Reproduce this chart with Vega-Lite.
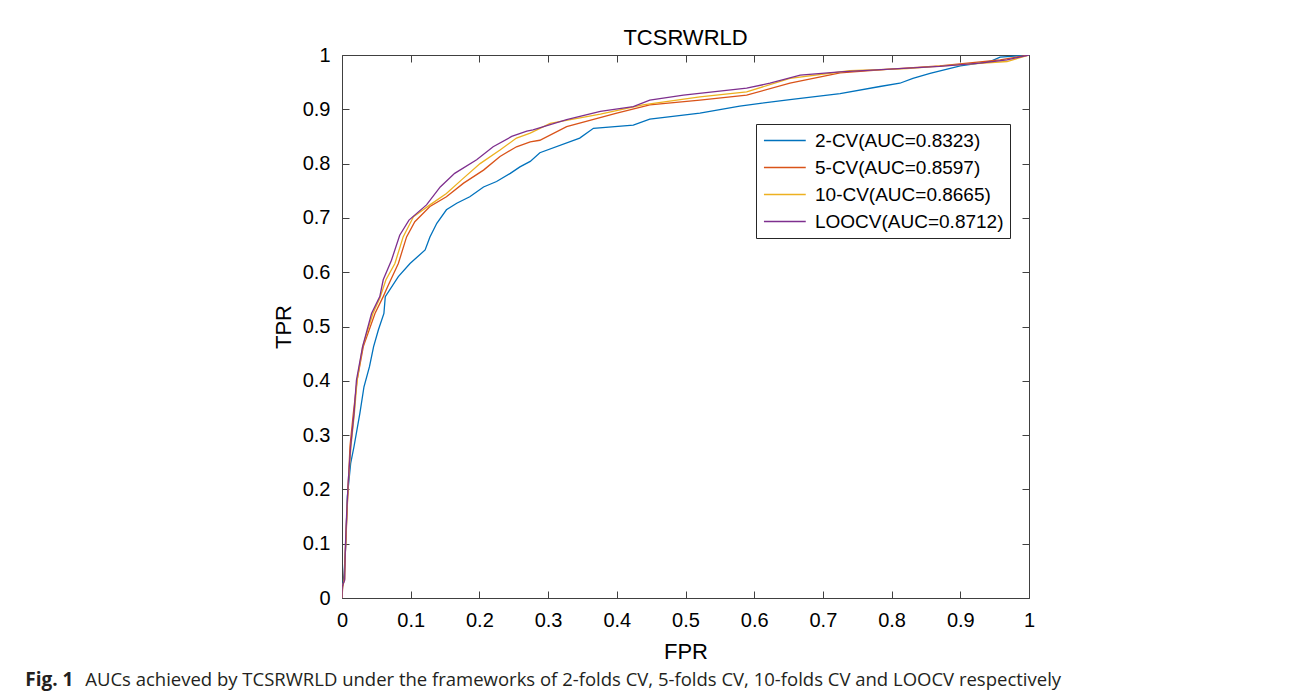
{
  "$schema": "https://vega.github.io/schema/vega-lite/v6.json",
  "background": "white",
  "padding": {"left": 25, "top": 27, "right": 5, "bottom": 5},
  "config": {"font": "Liberation Sans", "view": {"stroke": null}},
  "title": {"text": "AUCs achieved by TCSRWRLD under the frameworks of 2-folds CV, 5-folds CV, 10-folds CV and LOOCV respectively", "orient": "bottom", "anchor": "start", "font": "Open Sans", "fontSize": 18.5, "fontWeight": "normal", "color": "#231f20", "offset": 0, "dx": 60, "dy": -19},
  "vconcat": [
    {
      "title": {"text": "Fig. 1", "orient": "bottom", "anchor": "start", "font": "Open Sans", "fontSize": 19, "fontWeight": "bold", "color": "#231f20", "offset": 9, "dx": -247},
      "vconcat": [
        {
          "width": 687,
          "height": 543,
          "title": {"text": "TCSRWRLD", "font": "Liberation Sans", "fontSize": 22, "fontWeight": "normal", "color": "#000000", "offset": -5},
          "data": {"values": [
            {"method": "2-CV(AUC=0.8323)", "fpr": 0, "tpr": 0},
            {"method": "2-CV(AUC=0.8323)", "fpr": 0, "tpr": 0.01},
            {"method": "2-CV(AUC=0.8323)", "fpr": 0.003, "tpr": 0.045},
            {"method": "2-CV(AUC=0.8323)", "fpr": 0.0053, "tpr": 0.094},
            {"method": "2-CV(AUC=0.8323)", "fpr": 0.0078, "tpr": 0.187},
            {"method": "2-CV(AUC=0.8323)", "fpr": 0.0126, "tpr": 0.248},
            {"method": "2-CV(AUC=0.8323)", "fpr": 0.0175, "tpr": 0.279},
            {"method": "2-CV(AUC=0.8323)", "fpr": 0.026, "tpr": 0.34},
            {"method": "2-CV(AUC=0.8323)", "fpr": 0.032, "tpr": 0.389},
            {"method": "2-CV(AUC=0.8323)", "fpr": 0.04, "tpr": 0.426},
            {"method": "2-CV(AUC=0.8323)", "fpr": 0.046, "tpr": 0.463},
            {"method": "2-CV(AUC=0.8323)", "fpr": 0.053, "tpr": 0.494},
            {"method": "2-CV(AUC=0.8323)", "fpr": 0.061, "tpr": 0.524},
            {"method": "2-CV(AUC=0.8323)", "fpr": 0.063, "tpr": 0.555},
            {"method": "2-CV(AUC=0.8323)", "fpr": 0.082, "tpr": 0.592},
            {"method": "2-CV(AUC=0.8323)", "fpr": 0.099, "tpr": 0.616},
            {"method": "2-CV(AUC=0.8323)", "fpr": 0.121, "tpr": 0.641},
            {"method": "2-CV(AUC=0.8323)", "fpr": 0.128, "tpr": 0.665},
            {"method": "2-CV(AUC=0.8323)", "fpr": 0.138, "tpr": 0.69},
            {"method": "2-CV(AUC=0.8323)", "fpr": 0.152, "tpr": 0.715},
            {"method": "2-CV(AUC=0.8323)", "fpr": 0.167, "tpr": 0.727},
            {"method": "2-CV(AUC=0.8323)", "fpr": 0.186, "tpr": 0.739},
            {"method": "2-CV(AUC=0.8323)", "fpr": 0.206, "tpr": 0.757},
            {"method": "2-CV(AUC=0.8323)", "fpr": 0.225, "tpr": 0.767},
            {"method": "2-CV(AUC=0.8323)", "fpr": 0.245, "tpr": 0.782},
            {"method": "2-CV(AUC=0.8323)", "fpr": 0.259, "tpr": 0.794},
            {"method": "2-CV(AUC=0.8323)", "fpr": 0.274, "tpr": 0.804},
            {"method": "2-CV(AUC=0.8323)", "fpr": 0.288, "tpr": 0.82},
            {"method": "2-CV(AUC=0.8323)", "fpr": 0.346, "tpr": 0.847},
            {"method": "2-CV(AUC=0.8323)", "fpr": 0.366, "tpr": 0.865},
            {"method": "2-CV(AUC=0.8323)", "fpr": 0.424, "tpr": 0.871},
            {"method": "2-CV(AUC=0.8323)", "fpr": 0.448, "tpr": 0.882},
            {"method": "2-CV(AUC=0.8323)", "fpr": 0.521, "tpr": 0.893},
            {"method": "2-CV(AUC=0.8323)", "fpr": 0.579, "tpr": 0.906},
            {"method": "2-CV(AUC=0.8323)", "fpr": 0.652, "tpr": 0.918},
            {"method": "2-CV(AUC=0.8323)", "fpr": 0.725, "tpr": 0.929},
            {"method": "2-CV(AUC=0.8323)", "fpr": 0.783, "tpr": 0.942},
            {"method": "2-CV(AUC=0.8323)", "fpr": 0.812, "tpr": 0.948},
            {"method": "2-CV(AUC=0.8323)", "fpr": 0.831, "tpr": 0.957},
            {"method": "2-CV(AUC=0.8323)", "fpr": 0.856, "tpr": 0.966},
            {"method": "2-CV(AUC=0.8323)", "fpr": 0.9, "tpr": 0.98},
            {"method": "2-CV(AUC=0.8323)", "fpr": 0.943, "tpr": 0.988},
            {"method": "2-CV(AUC=0.8323)", "fpr": 0.958, "tpr": 0.996},
            {"method": "2-CV(AUC=0.8323)", "fpr": 1, "tpr": 1},
            {"method": "5-CV(AUC=0.8597)", "fpr": 0, "tpr": 0},
            {"method": "5-CV(AUC=0.8597)", "fpr": 0.001, "tpr": 0.02},
            {"method": "5-CV(AUC=0.8597)", "fpr": 0.003, "tpr": 0.035},
            {"method": "5-CV(AUC=0.8597)", "fpr": 0.0053, "tpr": 0.094},
            {"method": "5-CV(AUC=0.8597)", "fpr": 0.0083, "tpr": 0.187},
            {"method": "5-CV(AUC=0.8597)", "fpr": 0.0116, "tpr": 0.279},
            {"method": "5-CV(AUC=0.8597)", "fpr": 0.0165, "tpr": 0.34},
            {"method": "5-CV(AUC=0.8597)", "fpr": 0.022, "tpr": 0.401},
            {"method": "5-CV(AUC=0.8597)", "fpr": 0.031, "tpr": 0.463},
            {"method": "5-CV(AUC=0.8597)", "fpr": 0.048, "tpr": 0.524},
            {"method": "5-CV(AUC=0.8597)", "fpr": 0.06, "tpr": 0.555},
            {"method": "5-CV(AUC=0.8597)", "fpr": 0.067, "tpr": 0.575},
            {"method": "5-CV(AUC=0.8597)", "fpr": 0.082, "tpr": 0.616},
            {"method": "5-CV(AUC=0.8597)", "fpr": 0.094, "tpr": 0.665},
            {"method": "5-CV(AUC=0.8597)", "fpr": 0.106, "tpr": 0.693},
            {"method": "5-CV(AUC=0.8597)", "fpr": 0.128, "tpr": 0.721},
            {"method": "5-CV(AUC=0.8597)", "fpr": 0.152, "tpr": 0.739},
            {"method": "5-CV(AUC=0.8597)", "fpr": 0.177, "tpr": 0.764},
            {"method": "5-CV(AUC=0.8597)", "fpr": 0.206, "tpr": 0.788},
            {"method": "5-CV(AUC=0.8597)", "fpr": 0.23, "tpr": 0.813},
            {"method": "5-CV(AUC=0.8597)", "fpr": 0.254, "tpr": 0.831},
            {"method": "5-CV(AUC=0.8597)", "fpr": 0.274, "tpr": 0.84},
            {"method": "5-CV(AUC=0.8597)", "fpr": 0.288, "tpr": 0.843},
            {"method": "5-CV(AUC=0.8597)", "fpr": 0.327, "tpr": 0.868},
            {"method": "5-CV(AUC=0.8597)", "fpr": 0.4, "tpr": 0.893},
            {"method": "5-CV(AUC=0.8597)", "fpr": 0.448, "tpr": 0.908},
            {"method": "5-CV(AUC=0.8597)", "fpr": 0.521, "tpr": 0.917},
            {"method": "5-CV(AUC=0.8597)", "fpr": 0.589, "tpr": 0.926},
            {"method": "5-CV(AUC=0.8597)", "fpr": 0.652, "tpr": 0.948},
            {"method": "5-CV(AUC=0.8597)", "fpr": 0.725, "tpr": 0.967},
            {"method": "5-CV(AUC=0.8597)", "fpr": 0.798, "tpr": 0.974},
            {"method": "5-CV(AUC=0.8597)", "fpr": 0.87, "tpr": 0.98},
            {"method": "5-CV(AUC=0.8597)", "fpr": 0.958, "tpr": 0.991},
            {"method": "5-CV(AUC=0.8597)", "fpr": 1, "tpr": 1},
            {"method": "10-CV(AUC=0.8665)", "fpr": 0, "tpr": 0},
            {"method": "10-CV(AUC=0.8665)", "fpr": 0.0005, "tpr": 0.02},
            {"method": "10-CV(AUC=0.8665)", "fpr": 0.004, "tpr": 0.035},
            {"method": "10-CV(AUC=0.8665)", "fpr": 0.005, "tpr": 0.094},
            {"method": "10-CV(AUC=0.8665)", "fpr": 0.007, "tpr": 0.156},
            {"method": "10-CV(AUC=0.8665)", "fpr": 0.0095, "tpr": 0.217},
            {"method": "10-CV(AUC=0.8665)", "fpr": 0.013, "tpr": 0.279},
            {"method": "10-CV(AUC=0.8665)", "fpr": 0.018, "tpr": 0.34},
            {"method": "10-CV(AUC=0.8665)", "fpr": 0.022, "tpr": 0.401},
            {"method": "10-CV(AUC=0.8665)", "fpr": 0.03, "tpr": 0.463},
            {"method": "10-CV(AUC=0.8665)", "fpr": 0.045, "tpr": 0.524},
            {"method": "10-CV(AUC=0.8665)", "fpr": 0.055, "tpr": 0.552},
            {"method": "10-CV(AUC=0.8665)", "fpr": 0.064, "tpr": 0.586},
            {"method": "10-CV(AUC=0.8665)", "fpr": 0.077, "tpr": 0.616},
            {"method": "10-CV(AUC=0.8665)", "fpr": 0.089, "tpr": 0.665},
            {"method": "10-CV(AUC=0.8665)", "fpr": 0.104, "tpr": 0.702},
            {"method": "10-CV(AUC=0.8665)", "fpr": 0.128, "tpr": 0.724},
            {"method": "10-CV(AUC=0.8665)", "fpr": 0.152, "tpr": 0.745},
            {"method": "10-CV(AUC=0.8665)", "fpr": 0.174, "tpr": 0.77},
            {"method": "10-CV(AUC=0.8665)", "fpr": 0.201, "tpr": 0.8},
            {"method": "10-CV(AUC=0.8665)", "fpr": 0.23, "tpr": 0.825},
            {"method": "10-CV(AUC=0.8665)", "fpr": 0.254, "tpr": 0.847},
            {"method": "10-CV(AUC=0.8665)", "fpr": 0.274, "tpr": 0.856},
            {"method": "10-CV(AUC=0.8665)", "fpr": 0.303, "tpr": 0.874},
            {"method": "10-CV(AUC=0.8665)", "fpr": 0.376, "tpr": 0.891},
            {"method": "10-CV(AUC=0.8665)", "fpr": 0.438, "tpr": 0.908},
            {"method": "10-CV(AUC=0.8665)", "fpr": 0.521, "tpr": 0.923},
            {"method": "10-CV(AUC=0.8665)", "fpr": 0.589, "tpr": 0.932},
            {"method": "10-CV(AUC=0.8665)", "fpr": 0.652, "tpr": 0.957},
            {"method": "10-CV(AUC=0.8665)", "fpr": 0.739, "tpr": 0.971},
            {"method": "10-CV(AUC=0.8665)", "fpr": 0.822, "tpr": 0.975},
            {"method": "10-CV(AUC=0.8665)", "fpr": 0.895, "tpr": 0.982},
            {"method": "10-CV(AUC=0.8665)", "fpr": 0.968, "tpr": 0.988},
            {"method": "10-CV(AUC=0.8665)", "fpr": 1, "tpr": 1},
            {"method": "LOOCV(AUC=0.8712)", "fpr": 0, "tpr": 0},
            {"method": "LOOCV(AUC=0.8712)", "fpr": 0.0003, "tpr": 0.021},
            {"method": "LOOCV(AUC=0.8712)", "fpr": 0.0039, "tpr": 0.033},
            {"method": "LOOCV(AUC=0.8712)", "fpr": 0.0049, "tpr": 0.094},
            {"method": "LOOCV(AUC=0.8712)", "fpr": 0.0068, "tpr": 0.156},
            {"method": "LOOCV(AUC=0.8712)", "fpr": 0.0092, "tpr": 0.217},
            {"method": "LOOCV(AUC=0.8712)", "fpr": 0.0126, "tpr": 0.279},
            {"method": "LOOCV(AUC=0.8712)", "fpr": 0.0175, "tpr": 0.34},
            {"method": "LOOCV(AUC=0.8712)", "fpr": 0.021, "tpr": 0.401},
            {"method": "LOOCV(AUC=0.8712)", "fpr": 0.03, "tpr": 0.463},
            {"method": "LOOCV(AUC=0.8712)", "fpr": 0.043, "tpr": 0.524},
            {"method": "LOOCV(AUC=0.8712)", "fpr": 0.055, "tpr": 0.555},
            {"method": "LOOCV(AUC=0.8712)", "fpr": 0.06, "tpr": 0.586},
            {"method": "LOOCV(AUC=0.8712)", "fpr": 0.072, "tpr": 0.622},
            {"method": "LOOCV(AUC=0.8712)", "fpr": 0.084, "tpr": 0.668},
            {"method": "LOOCV(AUC=0.8712)", "fpr": 0.0975, "tpr": 0.696},
            {"method": "LOOCV(AUC=0.8712)", "fpr": 0.123, "tpr": 0.724},
            {"method": "LOOCV(AUC=0.8712)", "fpr": 0.143, "tpr": 0.757},
            {"method": "LOOCV(AUC=0.8712)", "fpr": 0.164, "tpr": 0.782},
            {"method": "LOOCV(AUC=0.8712)", "fpr": 0.196, "tpr": 0.807},
            {"method": "LOOCV(AUC=0.8712)", "fpr": 0.22, "tpr": 0.831},
            {"method": "LOOCV(AUC=0.8712)", "fpr": 0.247, "tpr": 0.85},
            {"method": "LOOCV(AUC=0.8712)", "fpr": 0.269, "tpr": 0.86},
            {"method": "LOOCV(AUC=0.8712)", "fpr": 0.278, "tpr": 0.862},
            {"method": "LOOCV(AUC=0.8712)", "fpr": 0.327, "tpr": 0.881},
            {"method": "LOOCV(AUC=0.8712)", "fpr": 0.376, "tpr": 0.896},
            {"method": "LOOCV(AUC=0.8712)", "fpr": 0.424, "tpr": 0.905},
            {"method": "LOOCV(AUC=0.8712)", "fpr": 0.448, "tpr": 0.917},
            {"method": "LOOCV(AUC=0.8712)", "fpr": 0.497, "tpr": 0.926},
            {"method": "LOOCV(AUC=0.8712)", "fpr": 0.589, "tpr": 0.939},
            {"method": "LOOCV(AUC=0.8712)", "fpr": 0.623, "tpr": 0.948},
            {"method": "LOOCV(AUC=0.8712)", "fpr": 0.667, "tpr": 0.963},
            {"method": "LOOCV(AUC=0.8712)", "fpr": 0.725, "tpr": 0.969},
            {"method": "LOOCV(AUC=0.8712)", "fpr": 0.798, "tpr": 0.974},
            {"method": "LOOCV(AUC=0.8712)", "fpr": 0.87, "tpr": 0.979},
            {"method": "LOOCV(AUC=0.8712)", "fpr": 0.929, "tpr": 0.985},
            {"method": "LOOCV(AUC=0.8712)", "fpr": 0.968, "tpr": 0.991},
            {"method": "LOOCV(AUC=0.8712)", "fpr": 1, "tpr": 1}
          ]},
          "layer": [
            {
              "mark": {"type": "line", "strokeWidth": 1.3, "clip": true},
              "encoding": {
                "x": {"field": "fpr", "type": "quantitative", "scale": {"domain": [0, 1], "nice": false, "zero": false},
                  "axis": {"orient": "bottom", "values": [0, 0.1, 0.2, 0.3, 0.4, 0.5, 0.6, 0.7, 0.8, 0.9, 1], "format": "~g", "grid": false,
                    "tickSize": -7, "tickColor": "#404040", "domainColor": "#404040", "labelFont": "Liberation Sans", "labelFontSize": 20, "labelColor": "#000000",
                    "labelPadding": 19, "labelFlush": false, "labelOverlap": false, "title": "FPR", "titleFont": "Liberation Sans", "titleFontSize": 22, "titleFontWeight": "normal", "titleColor": "#000000", "titlePadding": 11}},
                "y": {"field": "tpr", "type": "quantitative", "scale": {"domain": [0, 1], "nice": false, "zero": false},
                  "axis": {"orient": "left", "values": [0, 0.1, 0.2, 0.3, 0.4, 0.5, 0.6, 0.7, 0.8, 0.9, 1], "format": "~g", "grid": false,
                    "tickSize": -7, "tickColor": "#404040", "domainColor": "#404040", "labelFont": "Liberation Sans", "labelFontSize": 20, "labelColor": "#000000",
                    "labelPadding": 19, "labelFlush": false, "labelOverlap": false, "title": "TPR", "titleFont": "Liberation Sans", "titleFontSize": 22, "titleFontWeight": "normal", "titleColor": "#000000", "titlePadding": 7}},
                "color": {"field": "method", "type": "nominal",
                  "scale": {"domain": ["2-CV(AUC=0.8323)", "5-CV(AUC=0.8597)", "10-CV(AUC=0.8665)", "LOOCV(AUC=0.8712)"], "range": ["#0072BD", "#D95319", "#EDB120", "#7E2F8E"]},
                  "legend": {"orient": "none", "legendX": 414, "legendY": 69, "title": null, "strokeColor": "#262626", "fillColor": "#ffffff", "padding": 6,
                    "symbolType": "M-0.9,0H3.5", "symbolSize": 361, "symbolStrokeWidth": 1.3, "symbolFillColor": "transparent", "labelFont": "Liberation Sans", "labelFontSize": 19, "labelColor": "#000000",
                    "labelOffset": 32, "rowPadding": 6, "labelLimit": 400}},
                "order": {"field": "tpr", "type": "quantitative"}
              }
            },
            {
              "mark": {"type": "line", "opacity": 0},
              "encoding": {
                "x": {"field": "fpr", "type": "quantitative", "scale": {"domain": [0, 1], "nice": false, "zero": false},
                  "axis": {"orient": "top", "values": [0, 0.1, 0.2, 0.3, 0.4, 0.5, 0.6, 0.7, 0.8, 0.9, 1], "labels": false, "grid": false, "title": null,
                    "tickSize": -7, "tickColor": "#404040", "domainColor": "#404040"}},
                "y": {"field": "tpr", "type": "quantitative", "scale": {"domain": [0, 1], "nice": false, "zero": false},
                  "axis": {"orient": "right", "values": [0, 0.1, 0.2, 0.3, 0.4, 0.5, 0.6, 0.7, 0.8, 0.9, 1], "labels": false, "grid": false, "title": null,
                    "tickSize": -7, "tickColor": "#404040", "domainColor": "#404040"}},
                "detail": {"field": "method", "type": "nominal"},
                "order": {"field": "tpr", "type": "quantitative"}
              }
            }
          ],
          "resolve": {"scale": {"x": "independent", "y": "independent"}}
        }
      ]
    }
  ]
}
